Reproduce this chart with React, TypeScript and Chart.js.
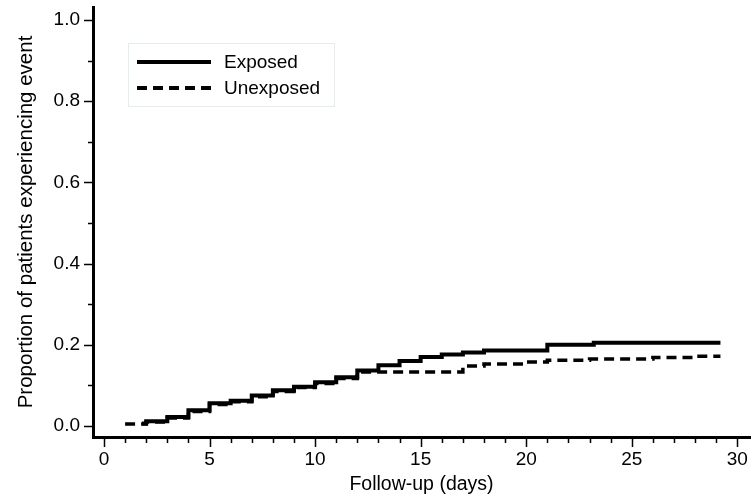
import React, { useEffect, useRef } from "react";
import { Chart, registerables } from "chart.js";

Chart.register(...registerables);

const exposedDays = [1.8, 2, 3, 4, 5, 6, 7, 8, 9, 10, 11, 12, 13, 14, 15, 16, 17, 18, 21, 23.2, 29.2];
const exposedValues = [0.006, 0.012, 0.022, 0.039, 0.056, 0.062, 0.075, 0.088, 0.097, 0.108, 0.12, 0.137, 0.15, 0.16, 0.17, 0.176, 0.181, 0.186, 0.2, 0.205, 0.205];

const unexposedDays = [1, 2, 3, 4, 5, 6, 7, 8, 9, 10, 11, 12, 17, 18, 20, 21, 23, 26, 28, 29.2];
const unexposedValues = [0.005, 0.01, 0.02, 0.036, 0.053, 0.06, 0.072, 0.085, 0.095, 0.105, 0.117, 0.133, 0.148, 0.153, 0.158, 0.162, 0.165, 0.169, 0.172, 0.172];

const seriesLabels = ["Exposed", "Unexposed"];
const xTitle = "Follow-up (days)";
const yTitle = "Proportion of patients experiencing event";
const xMajorTicks = [0, 5, 10, 15, 20, 25, 30];
const xMinorTicks = [0, 1, 2, 3, 4, 5, 6, 7, 8, 9, 10, 11, 12, 13, 14, 15, 16, 17, 18, 19, 20, 21, 22, 23, 24, 25, 26, 27, 28, 29, 30];
const yMajorTicks = [0, 0.2, 0.4, 0.6, 0.8, 1.0];
const yMinorTicks = [0.1, 0.3, 0.5, 0.7, 0.9];

const FONT = "'Liberation Sans', Arial, sans-serif";

const tickPlugin = {
  id: "customTicks",
  afterDraw(chart: any) {
    const { ctx, chartArea, scales } = chart;
    const xs = scales.x;
    const ys = scales.y;
    ctx.save();
    ctx.strokeStyle = "#000";
    ctx.lineWidth = 1.5;
    ctx.beginPath();
    xMinorTicks.forEach((d) => {
      const px = Math.round(xs.getPixelForValue(d)) + 0.5;
      const len = xMajorTicks.includes(d) ? 9 : 5;
      ctx.moveTo(px, chartArea.bottom + 1);
      ctx.lineTo(px, chartArea.bottom + 1 + len);
    });
    yMajorTicks.forEach((v) => {
      const py = Math.round(ys.getPixelForValue(v)) + 0.5;
      ctx.moveTo(chartArea.left - 1, py);
      ctx.lineTo(chartArea.left - 1 - 8, py);
    });
    yMinorTicks.forEach((v) => {
      const py = Math.round(ys.getPixelForValue(v)) + 0.5;
      ctx.moveTo(chartArea.left - 1, py);
      ctx.lineTo(chartArea.left - 1 - 4, py);
    });
    ctx.stroke();
    ctx.restore();
  },
};

const legendPlugin = {
  id: "customLegend",
  afterDraw(chart: any) {
    const { ctx } = chart;
    const ds = chart.data.datasets;
    ctx.save();
    ctx.strokeStyle = "#e4eded";
    ctx.lineWidth = 1;
    ctx.strokeRect(128.5, 43.5, 206, 63);
    ds.forEach((d: any, i: number) => {
      const y = 62 + i * 26;
      ctx.beginPath();
      ctx.strokeStyle = "#000";
      ctx.lineWidth = 4;
      ctx.setLineDash(d.borderDash || []);
      ctx.moveTo(137, y);
      ctx.lineTo(211, y);
      ctx.stroke();
      ctx.setLineDash([]);
      ctx.fillStyle = "#000";
      ctx.font = `19px ${FONT}`;
      ctx.textBaseline = "middle";
      ctx.textAlign = "left";
      ctx.fillText(d.label, 224, y + 1);
    });
    ctx.restore();
  },
};

export default function App() {
  const ref = useRef<HTMLCanvasElement | null>(null);
  useEffect(() => {
    if (!ref.current) return;
    const chart = new Chart(ref.current, {
      type: "line",
      data: {
        datasets: [
          {
            label: seriesLabels[0],
            data: exposedDays.map((d, i) => ({ x: d, y: exposedValues[i] })),
            borderColor: "#000",
            borderWidth: 4,
            pointRadius: 0,
            stepped: true,
            fill: false,
          },
          {
            label: seriesLabels[1],
            data: unexposedDays.map((d, i) => ({ x: d, y: unexposedValues[i] })),
            borderColor: "#000",
            borderWidth: 3.5,
            borderDash: [10, 6],
            pointRadius: 0,
            stepped: true,
            fill: false,
          },
        ],
      },
      options: {
        animation: false,
        responsive: false,
        layout: { padding: { top: 7, right: 3, left: 0, bottom: 0 } },
        plugins: { legend: { display: false }, tooltip: { enabled: false } },
        scales: {
          x: {
            type: "linear",
            min: -0.52,
            max: 30.6,
            afterFit: (s: any) => {
              s.height = 63;
              s.paddingLeft = 0;
              s.paddingRight = 0;
            },
            border: { display: true, color: "#000", width: 3 },
            grid: { display: true, drawOnChartArea: false, drawTicks: true, tickLength: 8, tickColor: "rgba(0,0,0,0)" },
            ticks: {
              stepSize: 5,
              includeBounds: false,
              padding: 3,
              color: "#000",
              font: { family: FONT, size: 19 },
              maxRotation: 0,
              callback: (v: any) => String(v),
            },
            title: {
              display: true,
              text: xTitle,
              color: "#000",
              font: { family: FONT, size: 19.5 },
              padding: { top: 0, bottom: 4 },
            },
          },
          y: {
            type: "linear",
            min: -0.027,
            max: 1.032,
            afterFit: (s: any) => {
              s.width = 93;
              s.paddingTop = 0;
              s.paddingBottom = 0;
            },
            border: { display: true, color: "#000", width: 3 },
            grid: { display: true, drawOnChartArea: false, drawTicks: true, tickLength: 8, tickColor: "rgba(0,0,0,0)" },
            ticks: {
              stepSize: 0.2,
              includeBounds: false,
              padding: 5,
              color: "#000",
              font: { family: FONT, size: 19 },
              callback: (v: any) => Math.abs(Number(v)).toFixed(1),
            },
            title: {
              display: true,
              text: yTitle,
              color: "#000",
              font: { family: FONT, size: 20.5 },
              padding: { top: 14, bottom: 0 },
            },
          },
        },
      },
      plugins: [tickPlugin, legendPlugin],
    });
    return () => chart.destroy();
  }, []);
  return (
    <div style={{ position: "absolute", left: 0, top: 0, width: 753, height: 500, background: "#fff" }}>
      <canvas ref={ref} width={753} height={500} style={{ display: "block" }} />
    </div>
  );
}
